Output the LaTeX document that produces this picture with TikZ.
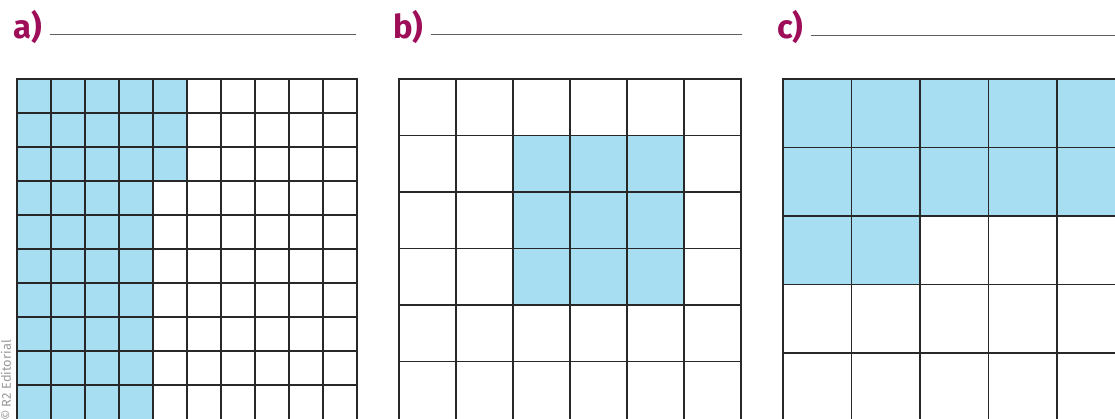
\documentclass[tikz,border=0pt]{standalone}
\usepackage{fontspec}
\setmainfont{Fira Sans}
\usetikzlibrary{positioning}
\definecolor{plum}{RGB}{158,14,88}
\definecolor{cellblue}{RGB}{168,222,242}
\definecolor{gridink}{RGB}{40,40,40}
\definecolor{rulegray}{RGB}{95,95,95}
\tikzset{
  part/.style={text=plum,font=\fontsize{28}{28}\selectfont\bfseries,anchor=base west,inner sep=0pt},
  answer/.style={draw=rulegray,line width=0.6pt},
  cell/.style={fill=cellblue},
  gridline/.style={draw=gridink,line width=1.25pt,line cap=rect},
  credit/.style={text=black!40,font=\fontsize{11}{11}\selectfont,rotate=90,anchor=east,inner sep=0pt},
}

\begin{document}
\begin{tikzpicture}[x=0.03cm,y=0.03cm]
  \useasboundingbox (0,0) rectangle (1115,419);
  \clip (0,0) rectangle (1115,419);
  % headings and answer lines
  \node[part] (la) at (13,380) {a)};
  \node[part] (lb) at (393,380) {b)};
  \node[part] (lc) at (777,380) {c)};
  \draw[answer] (50,385) -- (356,385);
  \draw[answer] (431,384.5) -- (742,384.5);
  \draw[answer] (811,384) -- (1115,384);
  % grid a: 10 x 10
  \fill[cell] (17,340) rectangle (187,238);
  \fill[cell] (17,238) rectangle (153,-2);
  \foreach \i in {0,...,10} \draw[gridline] (17+34*\i,340) -- (17+34*\i,-4);
  \foreach \j in {0,...,9} \draw[gridline] (17,340-34*\j) -- (357,340-34*\j);
  % grid b: 6 x 6
  \fill[cell] (513,283.5) rectangle (684,114);
  \foreach \i in {0,...,6} \draw[gridline] (399+57*\i,340) -- (399+57*\i,-4);
  \foreach \j in {0,...,5} \draw[gridline] (399,340-56.5*\j) -- (741,340-56.5*\j);
  % grid c: 5 x 5
  \fill[cell] (783,340) rectangle (1120,203);
  \fill[cell] (783,203) rectangle (920,134.5);
  \foreach \i in {0,...,4} \draw[gridline] (783+68.5*\i,340) -- (783+68.5*\i,-4);
  \foreach \j in {0,...,4} \draw[gridline] (783,340-68.5*\j) -- (1120,340-68.5*\j);
  % credit
  \node[credit] (cr) at (6,79) {© R2 Editorial};
\end{tikzpicture}
\end{document}
